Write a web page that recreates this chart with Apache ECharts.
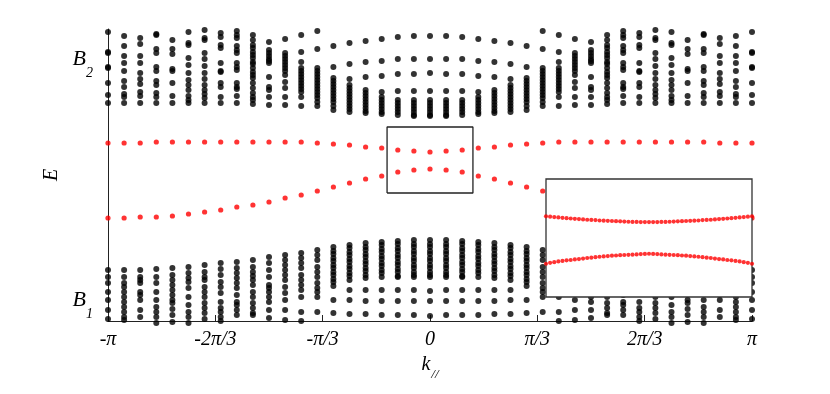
<!DOCTYPE html>
<html>
<head>
<meta charset="utf-8">
<script src="https://cdn.jsdelivr.net/npm/echarts@6/dist/echarts.min.js"></script>
<style>
html,body{margin:0;padding:0;background:#fff;}
#chart{width:830px;height:394px;}
</style>
</head>
<body>
<div id="chart"></div>
<script>
// k is kept in units of pi/3 : -3 = -pi ... 3 = pi
var kTicks = [-3, -2, -1, 0, 1, 2, 3];
var kTickLabels = ['-π', '-2π/3', '-π/3', '0', 'π/3', '2π/3', 'π'];
var nCols = 41;          // k samples across the zone
var bandLabelE = [0.16, 2.57];
var bandLabelSub = ['1', '2'];

// levels, columns -pi ... 0 (the spectrum is symmetric, E(k)=E(-k))
var upperBand = [
  [2.89, 2.69, 2.68, 2.54, 2.53, 2.38, 2.26, 2.18],
  [2.85, 2.75, 2.65, 2.58, 2.50, 2.40, 2.34, 2.27, 2.24, 2.18],
  [2.83, 2.77, 2.65, 2.58, 2.48, 2.42, 2.37, 2.29, 2.25, 2.18],
  [2.87, 2.86, 2.72, 2.68, 2.54, 2.50, 2.40, 2.36, 2.28, 2.24, 2.18],
  [2.81, 2.72, 2.67, 2.52, 2.50, 2.38, 2.25, 2.18],
  [2.89, 2.78, 2.76, 2.63, 2.56, 2.48, 2.41, 2.36, 2.31, 2.25, 2.21, 2.18],
  [2.91, 2.83, 2.81, 2.68, 2.62, 2.55, 2.48, 2.42, 2.36, 2.31, 2.27, 2.23, 2.18],
  [2.88, 2.84, 2.76, 2.73, 2.58, 2.50, 2.49, 2.38, 2.34, 2.24, 2.18],
  [2.90, 2.86, 2.83, 2.75, 2.71, 2.68, 2.58, 2.54, 2.51, 2.38, 2.34, 2.32, 2.25, 2.18],
  [2.86, 2.81, 2.76, 2.73, 2.69, 2.66, 2.63, 2.59, 2.57, 2.53, 2.49, 2.46, 2.43, 2.38, 2.33, 2.28, 2.24, 2.21, 2.17],
  [2.79, 2.71, 2.68, 2.65, 2.62, 2.60, 2.58, 2.44, 2.34, 2.31, 2.24, 2.16],
  [2.82, 2.68, 2.65, 2.62, 2.59, 2.56, 2.53, 2.50, 2.46, 2.39, 2.33, 2.24, 2.16],
  [2.86, 2.69, 2.59, 2.53, 2.50, 2.47, 2.44, 2.41, 2.38, 2.35, 2.32, 2.29, 2.24, 2.15],
  [2.90, 2.72, 2.53, 2.50, 2.47, 2.44, 2.41, 2.38, 2.35, 2.32, 2.29, 2.26, 2.23, 2.19, 2.15],
  [2.75, 2.54, 2.43, 2.40, 2.37, 2.34, 2.31, 2.28, 2.25, 2.22, 2.19, 2.15, 2.11],
  [2.78, 2.57, 2.42, 2.36, 2.33, 2.30, 2.27, 2.24, 2.21, 2.18, 2.15, 2.12, 2.09],
  [2.80, 2.59, 2.44, 2.31, 2.28, 2.25, 2.22, 2.19, 2.16, 2.13, 2.10, 2.08],
  [2.82, 2.60, 2.45, 2.29, 2.24, 2.21, 2.18, 2.15, 2.12, 2.09, 2.07],
  [2.84, 2.62, 2.47, 2.30, 2.21, 2.18, 2.15, 2.12, 2.09, 2.06],
  [2.85, 2.62, 2.47, 2.30, 2.21, 2.18, 2.15, 2.12, 2.09, 2.06, 2.05],
  [2.85, 2.62, 2.48, 2.30, 2.21, 2.18, 2.15, 2.12, 2.09, 2.06, 2.05]
];
var lowerBand = [
  [0.51, 0.44, 0.38, 0.29, 0.21, 0.11, 0.02],
  [0.51, 0.44, 0.38, 0.34, 0.29, 0.24, 0.19, 0.14, 0.09, 0.04, 0.01],
  [0.51, 0.44, 0.41, 0.38, 0.29, 0.26, 0.21, 0.11, 0.04],
  [0.52, 0.44, 0.38, 0.29, 0.21, 0.14, 0.09, 0.04, -0.02],
  [0.53, 0.46, 0.41, 0.36, 0.31, 0.26, 0.21, 0.18, 0.12, 0.06, -0.01],
  [0.54, 0.48, 0.43, 0.39, 0.33, 0.24, 0.16, 0.09, 0.04, -0.02],
  [0.56, 0.49, 0.44, 0.41, 0.34, 0.29, 0.24, 0.18, 0.13, 0.08, 0.02],
  [0.58, 0.52, 0.46, 0.39, 0.34, 0.28, 0.19, 0.13, 0.09, 0.04, 0.00],
  [0.59, 0.53, 0.48, 0.43, 0.38, 0.33, 0.26, 0.19, 0.16, 0.11, 0.06],
  [0.61, 0.54, 0.49, 0.45, 0.41, 0.36, 0.29, 0.24, 0.18, 0.13, 0.08, 0.06],
  [0.64, 0.58, 0.51, 0.44, 0.36, 0.33, 0.29, 0.24, 0.19, 0.11, 0.03],
  [0.66, 0.61, 0.56, 0.51, 0.46, 0.41, 0.34, 0.28, 0.21, 0.11, 0.01],
  [0.68, 0.63, 0.58, 0.53, 0.46, 0.41, 0.36, 0.31, 0.24, 0.09, 0.00],
  [0.71, 0.66, 0.61, 0.54, 0.49, 0.44, 0.38, 0.33, 0.29, 0.24, 0.09],
  [0.74, 0.70, 0.67, 0.63, 0.60, 0.56, 0.53, 0.49, 0.46, 0.42, 0.39, 0.35, 0.21, 0.08],
  [0.76, 0.73, 0.69, 0.66, 0.62, 0.59, 0.55, 0.52, 0.48, 0.45, 0.41, 0.31, 0.21, 0.07],
  [0.78, 0.74, 0.71, 0.67, 0.64, 0.60, 0.57, 0.53, 0.50, 0.46, 0.43, 0.31, 0.20, 0.07],
  [0.79, 0.76, 0.72, 0.69, 0.65, 0.62, 0.58, 0.55, 0.51, 0.48, 0.44, 0.31, 0.20, 0.06],
  [0.80, 0.77, 0.73, 0.70, 0.66, 0.63, 0.59, 0.56, 0.52, 0.49, 0.45, 0.44, 0.31, 0.20, 0.06],
  [0.81, 0.77, 0.74, 0.70, 0.67, 0.63, 0.60, 0.56, 0.53, 0.49, 0.46, 0.44, 0.31, 0.20, 0.06],
  [0.81, 0.77, 0.74, 0.70, 0.67, 0.63, 0.60, 0.56, 0.53, 0.49, 0.46, 0.44, 0.30, 0.20, 0.05]
];
// the two in-gap (red) states, columns -pi ... 0
var edgeUpper = [1.78, 1.78, 1.78, 1.79, 1.79, 1.79, 1.79, 1.79, 1.79, 1.79, 1.79, 1.79, 1.79, 1.78, 1.77, 1.76, 1.74, 1.73, 1.71, 1.70, 1.69];
var edgeLower = [1.03, 1.03, 1.04, 1.04, 1.05, 1.07, 1.09, 1.11, 1.14, 1.16, 1.19, 1.23, 1.26, 1.30, 1.34, 1.38, 1.42, 1.45, 1.49, 1.51, 1.52];

// zoom window and the finer sampling shown in the inset, left edge ... k=0
var zoomK = [-0.4, 0.4];
var zoomE = [1.28, 1.94];
var nInset = 51;
var insetUpper = [1.731, 1.729, 1.727, 1.725, 1.723, 1.721, 1.719, 1.717, 1.716, 1.714, 1.712, 1.711, 1.710, 1.708, 1.707, 1.706, 1.705, 1.704, 1.703, 1.702, 1.701, 1.700, 1.700, 1.699, 1.699, 1.699];
var insetLower = [1.466, 1.471, 1.475, 1.479, 1.482, 1.485, 1.487, 1.490, 1.492, 1.495, 1.498, 1.500, 1.503, 1.505, 1.507, 1.509, 1.511, 1.512, 1.514, 1.515, 1.516, 1.517, 1.518, 1.520, 1.521, 1.522];

var serif = "'Liberation Serif', 'DejaVu Serif', serif";

// build point lists
var bandPts = [], redPts = [], insetPts = [];
for (var i = 0; i < nCols; i++) {
  var k = -3 + 6 * i / (nCols - 1);
  var h = Math.min(i, nCols - 1 - i);
  upperBand[h].forEach(function (e) { bandPts.push([k, e]); });
  lowerBand[h].forEach(function (e) { bandPts.push([k, e]); });
  redPts.push([k, edgeUpper[h]]);
  redPts.push([k, edgeLower[h]]);
}
for (var j = 0; j < nInset; j++) {
  var kk = zoomK[0] + (zoomK[1] - zoomK[0]) * j / (nInset - 1);
  var hh = Math.min(j, nInset - 1 - j);
  insetPts.push([kk, insetUpper[hh]]);
  insetPts.push([kk, insetLower[hh]]);
}
var boxPts = [
  [zoomK[0], zoomE[0]], [zoomK[1], zoomE[0]], [zoomK[1], zoomE[1]],
  [zoomK[0], zoomE[1]], [zoomK[0], zoomE[0]]
];

var chart = echarts.init(document.getElementById('chart'));
var option = {
  animation: false,
  backgroundColor: '#fff',
  grid: [
    {left: 108, right: 78, top: 29, bottom: 73},
    {left: 546, top: 179, width: 206, height: 118, show: true, z: 10,
     backgroundColor: '#fff', borderColor: '#333', borderWidth: 1.3}
  ],
  xAxis: [{
    type: 'value', gridIndex: 0, min: -3, max: 3, interval: 1,
    axisLine: {onZero: false, lineStyle: {color: '#222', width: 1}},
    axisTick: {inside: true, length: 6, lineStyle: {color: '#222'}},
    splitLine: {show: false},
    axisLabel: {
      margin: 9, color: '#000', fontFamily: serif, fontStyle: 'italic', fontSize: 20,
      formatter: function (v) {
        var n = kTicks.indexOf(v);
        return n >= 0 ? kTickLabels[n] : '';
      }
    },
    name: '{k|k}{s|//}', nameLocation: 'middle', nameGap: 24,
    nameTextStyle: {
      rich: {
        k: {fontFamily: serif, fontStyle: 'italic', fontSize: 20, color: '#000', verticalAlign: 'top'},
        s: {fontFamily: serif, fontStyle: 'italic', fontSize: 13, color: '#000', verticalAlign: 'top', padding: [13, 0, 0, 1]}
      }
    }
  }, {
    type: 'value', gridIndex: 1, min: zoomK[0], max: zoomK[1], show: false
  }],
  yAxis: [{
    type: 'value', gridIndex: 0, min: 0, max: 2.92,
    axisLine: {show: true, onZero: false, lineStyle: {color: '#222', width: 1}},
    axisTick: {show: false},
    splitLine: {show: false},
    axisLabel: {
      customValues: bandLabelE, margin: 15,
      formatter: function (v) {
        var n = bandLabelE.indexOf(v);
        return '{b|B}{s|' + bandLabelSub[n] + '}';
      },
      rich: {
        b: {fontFamily: serif, fontStyle: 'italic', fontSize: 22, color: '#000', verticalAlign: 'top'},
        s: {fontFamily: serif, fontStyle: 'italic', fontSize: 14, color: '#000', verticalAlign: 'top', padding: [18, 0, 0, 0]}
      }
    },
    name: 'E', nameLocation: 'middle', nameGap: 36,
    nameTextStyle: {fontFamily: serif, fontStyle: 'italic', fontSize: 20, color: '#000'}
  }, {
    type: 'value', gridIndex: 1, min: zoomE[0], max: zoomE[1], show: false
  }],
  series: [
    {
      name: 'bulk', type: 'scatter', xAxisIndex: 0, yAxisIndex: 0, clip: false, silent: true,
      symbolSize: 6, itemStyle: {color: '#000'}, data: bandPts
    },
    {
      name: 'gap states', type: 'scatter', xAxisIndex: 0, yAxisIndex: 0, clip: false, silent: true,
      symbolSize: 5.2, itemStyle: {color: '#ff0000'}, data: redPts
    },
    {
      name: 'zoom box', type: 'line', xAxisIndex: 0, yAxisIndex: 0, showSymbol: false, silent: true, z: 3,
      lineStyle: {color: '#222', width: 1.3}, data: boxPts
    },
    {
      name: 'inset', type: 'scatter', xAxisIndex: 1, yAxisIndex: 1, silent: true, z: 12,
      symbolSize: 4.2, itemStyle: {color: '#ff0000'}, data: insetPts
    }
  ]
};
chart.setOption(option);
</script>
</body>
</html>
